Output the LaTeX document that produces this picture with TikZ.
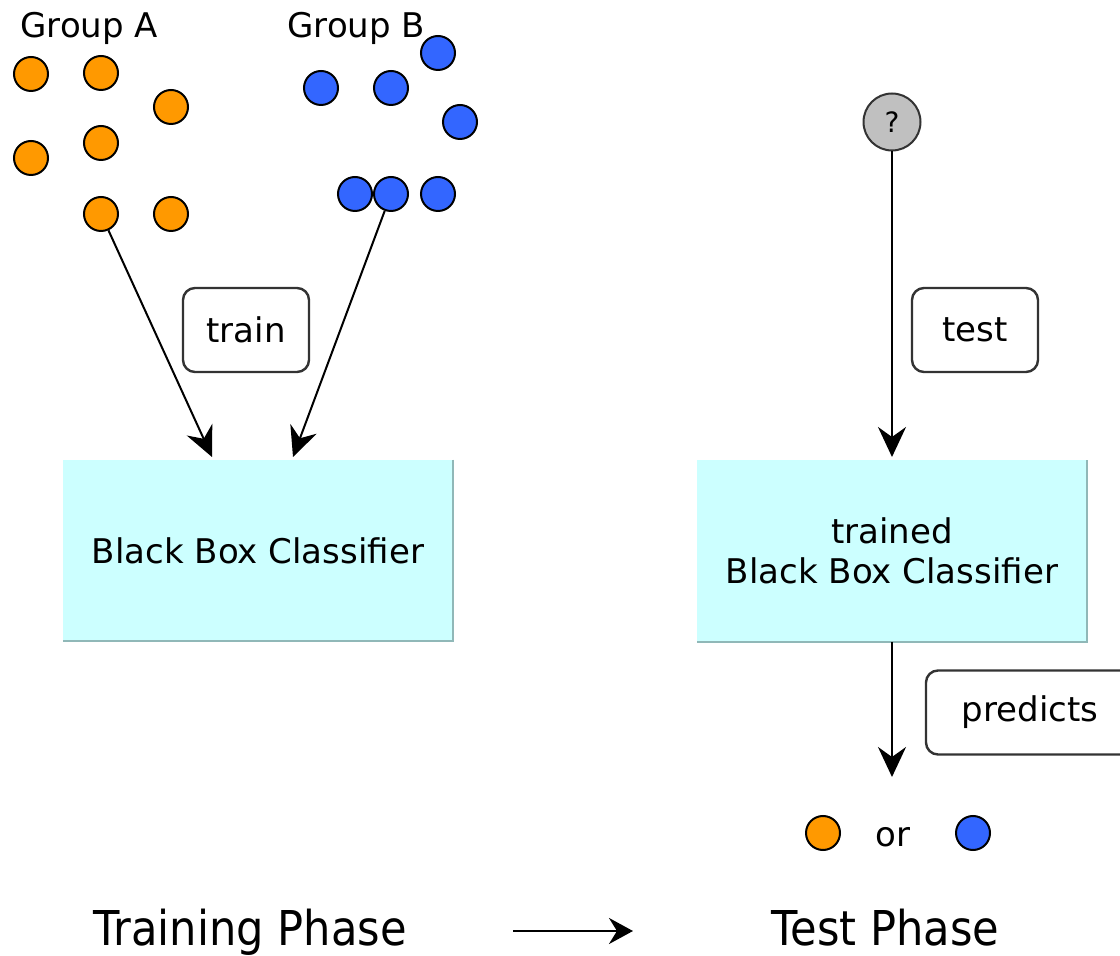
\documentclass[tikz,border=0pt]{standalone}
\usepackage{fontspec}
\setmainfont{DejaVu Sans}
\newfontfamily\phasefont[FakeStretch=0.9]{DejaVu Sans}
\usetikzlibrary{arrows.meta}
\definecolor{dotorange}{HTML}{FF9900}
\definecolor{dotblue}{HTML}{3366FF}
\definecolor{boxcyan}{HTML}{CCFFFF}
\definecolor{boxedge}{HTML}{90B8B8}
\definecolor{qgray}{HTML}{C0C0C0}
\definecolor{framegray}{HTML}{333333}
\begin{document}
\begin{tikzpicture}[x=0.5pt,y=-0.5pt,
  every node/.style={font=\fontsize{17pt}{20pt}\selectfont},
  dot/.style={circle, draw=black, line width=1pt, minimum size=17pt, inner sep=0pt},
  odot/.style={dot, fill=dotorange},
  bdot/.style={dot, fill=dotblue},
  qdot/.style={circle, draw=framegray, line width=1pt, fill=qgray, minimum size=28.5pt, inner sep=0pt, font=\fontsize{14pt}{16pt}\selectfont},
  classbox/.style={rectangle, fill=boxcyan, minimum width=195pt, minimum height=90.5pt, inner sep=0pt, align=center},
  tagbox/.style={rectangle, rounded corners=6pt, draw=framegray, line width=1.2pt, minimum width=63pt, minimum height=42pt, inner sep=0pt},
  flow/.style={-{Stealth[length=15pt,width=14pt,inset=5pt]}, line width=1pt},
  phasearrow/.style={-{Stealth[length=12pt,width=13pt,inset=4pt]}, line width=1.3pt},
  txt/.style={inner sep=0pt, anchor=base},
  phase/.style={inner sep=0pt, anchor=base, font=\phasefont\fontsize{24pt}{28pt}\selectfont},
]
\useasboundingbox (0,0) rectangle (1120,956);

% labels
\node[txt, anchor=base west] (ga) at (20,38) {Group A};
\node[txt, anchor=base west] (gb) at (287,38) {Group B};

% group A dots
\node[odot] (a1) at (31,74) {};
\node[odot] (a2) at (101,73) {};
\node[odot] (a3) at (171,107) {};
\node[odot] (a4) at (31,158) {};
\node[odot] (a5) at (101,143) {};
\node[odot] (a6) at (101,214) {};
\node[odot] (a7) at (171,214) {};

% group B dots
\node[bdot] (b1) at (321,88) {};
\node[bdot] (b2) at (391,88) {};
\node[bdot] (b3) at (438,53) {};
\node[bdot] (b4) at (460,122) {};
\node[bdot] (b5) at (355,194) {};
\node[bdot] (b7) at (438,194) {};
\node[bdot] (b6) at (391,194) {};

% training classifier
\node[classbox] (cls) at (258,550.5) {Black Box Classifier};
\draw[boxedge, line width=1pt] (cls.north east) -- (cls.south east) -- (cls.south west);

\coordinate (ta) at (212,457);
\coordinate (tb) at (293,457);
\draw[flow] (a6) -- (ta);
\draw[flow] (b6) -- (tb);
\node[tagbox] (train) at (246,330) {train};

% test phase
\node[qdot] (q) at (892,122) {?};
\node[classbox] (tcls) at (892,551) {trained\\ Black Box Classifier};
\draw[boxedge, line width=1pt] (tcls.north east) -- (tcls.south east) -- (tcls.south west);
\coordinate (qa) at (892,457);
\draw[flow] (q) -- (qa);
\node[tagbox] (test) at (975,330) {test};

\coordinate (pend) at (892,777);
\draw[flow] (tcls.south -| pend) -- (pend);
\node[tagbox, minimum width=104pt] (pred) at (1030,712.5) {predicts};

% result
\node[odot] (ro) at (823,833) {};
\node[txt] (or) at (893,847) {or};
\node[bdot] (rb) at (973,833) {};

% phases
\node[phase] (trp) at (250,945) {Training Phase};
\node[phase] (tep) at (885.5,945) {Test Phase};
\coordinate (pa) at (513,931);
\coordinate (pb) at (633,931);
\draw[phasearrow] (pa) -- (pb);
\end{tikzpicture}
\end{document}
